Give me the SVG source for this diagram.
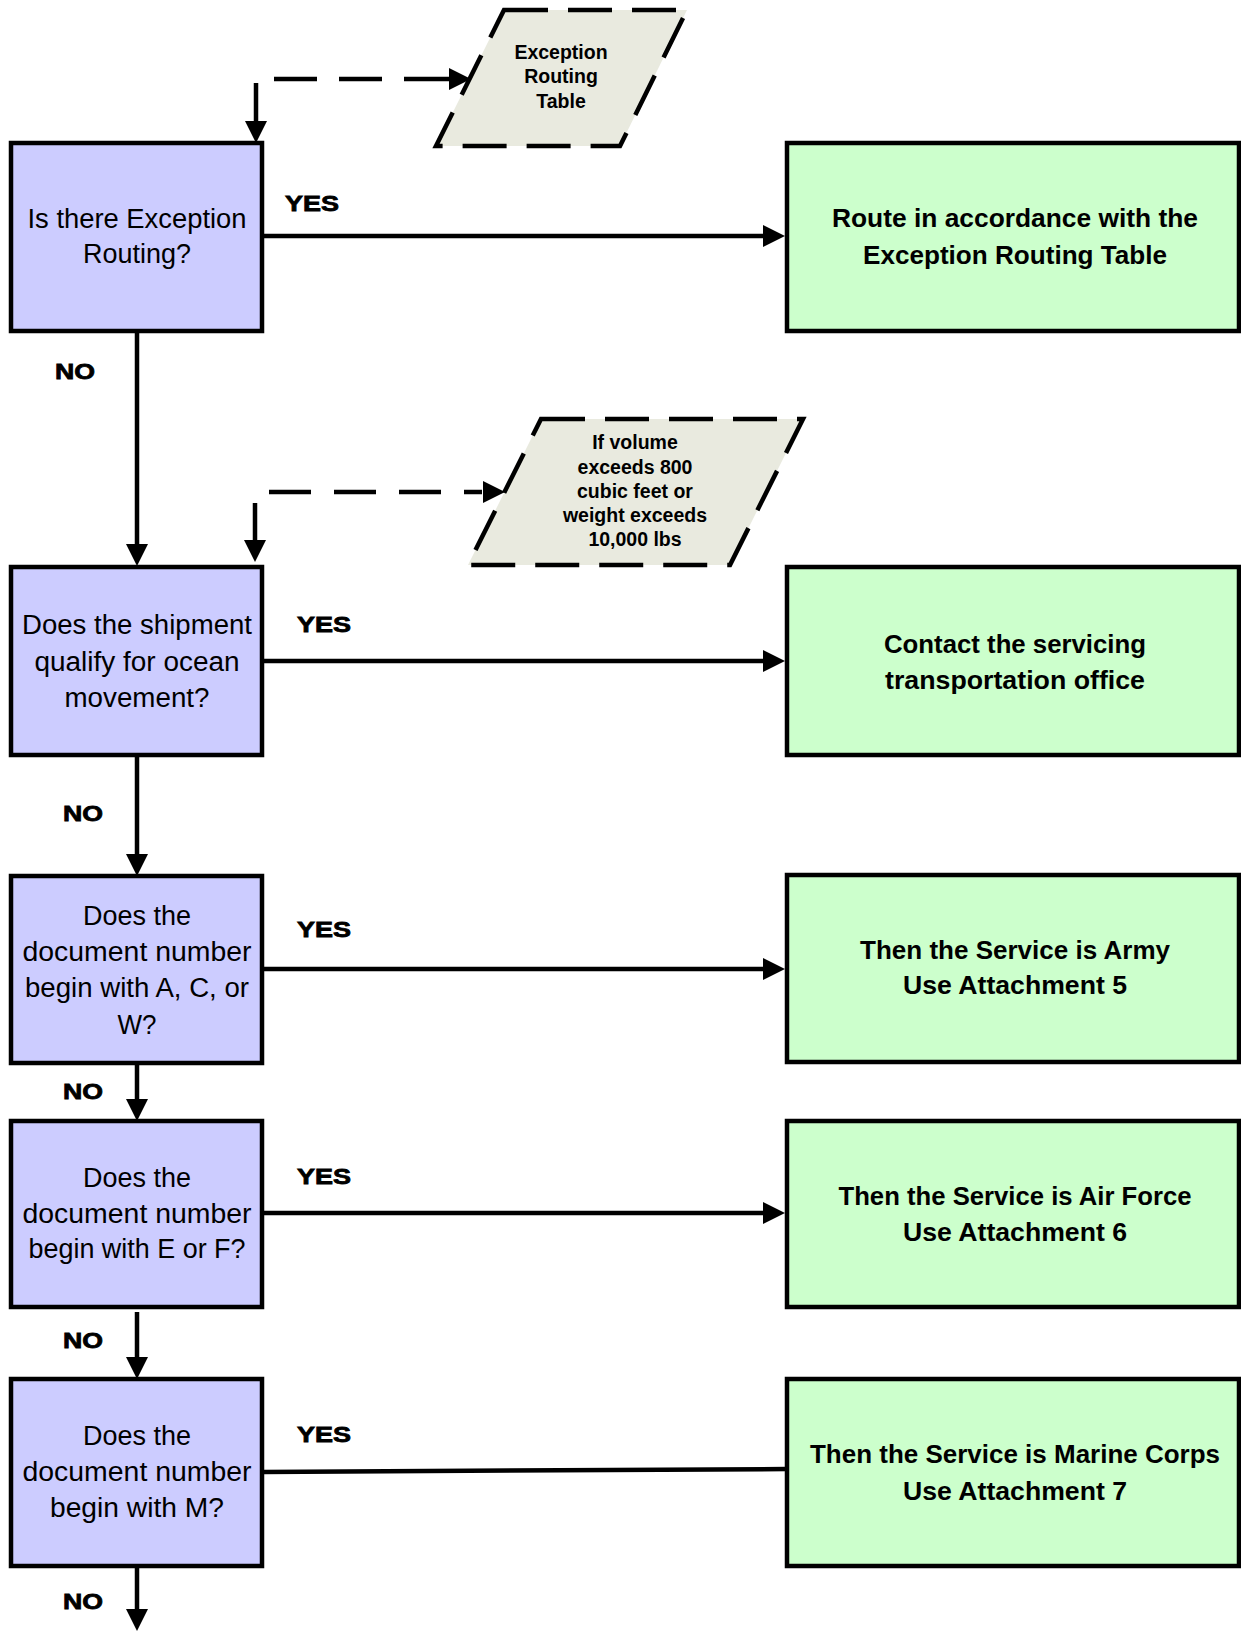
<svg xmlns="http://www.w3.org/2000/svg" width="1241" height="1631" viewBox="0 0 1241 1631">
<defs>
<marker id="ah" markerUnits="userSpaceOnUse" markerWidth="22" markerHeight="22" refX="0" refY="11" orient="auto-start-reverse" viewBox="0 0 22 22"><path d="M0,0 L22,11 L0,22 z" fill="#000"/></marker>
<style>
.q{fill:#CCCCFF;stroke:#000;stroke-width:4.5}
.r{fill:#CCFFCC;stroke:#000;stroke-width:4.5}
.d{fill:#E9EADF;stroke:#000;stroke-width:4.5;stroke-dasharray:44 20}
.c{fill:none;stroke:#000;stroke-width:4.5}
.qt{font-family:"Liberation Sans",Arial,sans-serif;font-size:27px;text-anchor:middle;fill:#000}
.rt{font-family:"Liberation Sans",Arial,sans-serif;font-size:26px;font-weight:bold;text-anchor:middle;fill:#000}
.dt{font-family:"Liberation Sans",Arial,sans-serif;font-size:19.5px;font-weight:bold;text-anchor:middle;fill:#000}
.lb{font-family:"Liberation Sans",Arial,sans-serif;font-size:22px;font-weight:bold;text-anchor:middle;fill:#000;stroke:#000;stroke-width:0.8}
</style>
</defs>
<rect width="1241" height="1631" fill="#fff"/>
<g id="connectors">
<path class="c" d="M256,121 V79 H449" style="stroke-dasharray:38 22 43 22 43 22 45" marker-start="url(#ah)" marker-end="url(#ah)"/>
<path class="c" d="M255,540 V492 H483" style="stroke-dasharray:37 25 42 23 42 23 42 23 18" marker-start="url(#ah)" marker-end="url(#ah)"/>
<line class="c" x1="263" y1="236" x2="763" y2="236" marker-end="url(#ah)"/>
<line class="c" x1="263" y1="661" x2="763" y2="661" marker-end="url(#ah)"/>
<line class="c" x1="263" y1="969" x2="763" y2="969" marker-end="url(#ah)"/>
<line class="c" x1="263" y1="1213" x2="763" y2="1213" marker-end="url(#ah)"/>
<line class="c" x1="263" y1="1472" x2="787" y2="1469"/>
<line class="c" x1="137" y1="331" x2="137" y2="544" marker-end="url(#ah)"/>
<line class="c" x1="137" y1="755" x2="137" y2="854" marker-end="url(#ah)"/>
<line class="c" x1="137" y1="1063" x2="137" y2="1099" marker-end="url(#ah)"/>
<line class="c" x1="137" y1="1312" x2="137" y2="1357" marker-end="url(#ah)"/>
<line class="c" x1="137" y1="1566" x2="137" y2="1609" marker-end="url(#ah)"/>
<text class="lb" x="312" y="211" textLength="54" lengthAdjust="spacingAndGlyphs">YES</text>
<text class="lb" x="324" y="632" textLength="54" lengthAdjust="spacingAndGlyphs">YES</text>
<text class="lb" x="324" y="937" textLength="54" lengthAdjust="spacingAndGlyphs">YES</text>
<text class="lb" x="324" y="1184" textLength="54" lengthAdjust="spacingAndGlyphs">YES</text>
<text class="lb" x="324" y="1442" textLength="54" lengthAdjust="spacingAndGlyphs">YES</text>
<text class="lb" x="75" y="379" textLength="40" lengthAdjust="spacingAndGlyphs">NO</text>
<text class="lb" x="83" y="821" textLength="40" lengthAdjust="spacingAndGlyphs">NO</text>
<text class="lb" x="83" y="1099" textLength="40" lengthAdjust="spacingAndGlyphs">NO</text>
<text class="lb" x="83" y="1348" textLength="40" lengthAdjust="spacingAndGlyphs">NO</text>
<text class="lb" x="83" y="1609" textLength="40" lengthAdjust="spacingAndGlyphs">NO</text>
</g>
<g id="data1">
<polygon class="d" points="504,10 687,10 620,146 436,146"/>
<text class="dt" x="561" y="59">Exception</text>
<text class="dt" x="561" y="83">Routing</text>
<text class="dt" x="561" y="108">Table</text>
</g>
<g id="data2">
<polygon class="d" points="541,419 803,419 730,565 468,565"/>
<text class="dt" x="635" y="449">If volume</text>
<text class="dt" x="635" y="474">exceeds 800</text>
<text class="dt" x="635" y="498">cubic feet or</text>
<text class="dt" x="635" y="522">weight exceeds</text>
<text class="dt" x="635" y="546">10,000 lbs</text>
</g>
<g id="q1">
<rect class="q" x="11" y="143" width="251" height="188"/>
<text class="qt" x="137" y="228" textLength="219" lengthAdjust="spacingAndGlyphs">Is there Exception</text>
<text class="qt" x="137" y="263" textLength="108" lengthAdjust="spacingAndGlyphs">Routing?</text>
</g>
<g id="q2">
<rect class="q" x="11" y="567" width="251" height="188"/>
<text class="qt" x="137" y="634" textLength="230" lengthAdjust="spacingAndGlyphs">Does the shipment</text>
<text class="qt" x="137" y="671" textLength="205" lengthAdjust="spacingAndGlyphs">qualify for ocean</text>
<text class="qt" x="137" y="707" textLength="145" lengthAdjust="spacingAndGlyphs">movement?</text>
</g>
<g id="q3">
<rect class="q" x="11" y="876" width="251" height="187"/>
<text class="qt" x="137" y="925" textLength="108" lengthAdjust="spacingAndGlyphs">Does the</text>
<text class="qt" x="137" y="961" textLength="229" lengthAdjust="spacingAndGlyphs">document number</text>
<text class="qt" x="137" y="997" textLength="224" lengthAdjust="spacingAndGlyphs">begin with A, C, or</text>
<text class="qt" x="137" y="1034" textLength="39" lengthAdjust="spacingAndGlyphs">W?</text>
</g>
<g id="q4">
<rect class="q" x="11" y="1121" width="251" height="186"/>
<text class="qt" x="137" y="1187" textLength="108" lengthAdjust="spacingAndGlyphs">Does the</text>
<text class="qt" x="137" y="1223" textLength="229" lengthAdjust="spacingAndGlyphs">document number</text>
<text class="qt" x="137" y="1258" textLength="217" lengthAdjust="spacingAndGlyphs">begin with E or F?</text>
</g>
<g id="q5">
<rect class="q" x="11" y="1379" width="251" height="187"/>
<text class="qt" x="137" y="1445" textLength="108" lengthAdjust="spacingAndGlyphs">Does the</text>
<text class="qt" x="137" y="1481" textLength="229" lengthAdjust="spacingAndGlyphs">document number</text>
<text class="qt" x="137" y="1517" textLength="174" lengthAdjust="spacingAndGlyphs">begin with M?</text>
</g>
<g id="r1">
<rect class="r" x="787" y="143" width="452" height="188"/>
<text class="rt" x="1015" y="227" textLength="366" lengthAdjust="spacingAndGlyphs">Route in accordance with the</text>
<text class="rt" x="1015" y="264" textLength="304" lengthAdjust="spacingAndGlyphs">Exception Routing Table</text>
</g>
<g id="r2">
<rect class="r" x="787" y="567" width="452" height="188"/>
<text class="rt" x="1015" y="653" textLength="262" lengthAdjust="spacingAndGlyphs">Contact the servicing</text>
<text class="rt" x="1015" y="689" textLength="260" lengthAdjust="spacingAndGlyphs">transportation office</text>
</g>
<g id="r3">
<rect class="r" x="787" y="875" width="452" height="187"/>
<text class="rt" x="1015" y="959" textLength="310" lengthAdjust="spacingAndGlyphs">Then the Service is Army</text>
<text class="rt" x="1015" y="994" textLength="224" lengthAdjust="spacingAndGlyphs">Use Attachment 5</text>
</g>
<g id="r4">
<rect class="r" x="787" y="1121" width="452" height="186"/>
<text class="rt" x="1015" y="1205" textLength="353" lengthAdjust="spacingAndGlyphs">Then the Service is Air Force</text>
<text class="rt" x="1015" y="1241" textLength="224" lengthAdjust="spacingAndGlyphs">Use Attachment 6</text>
</g>
<g id="r5">
<rect class="r" x="787" y="1379" width="452" height="187"/>
<text class="rt" x="1015" y="1463" textLength="410" lengthAdjust="spacingAndGlyphs">Then the Service is Marine Corps</text>
<text class="rt" x="1015" y="1500" textLength="224" lengthAdjust="spacingAndGlyphs">Use Attachment 7</text>
</g>
</svg>
